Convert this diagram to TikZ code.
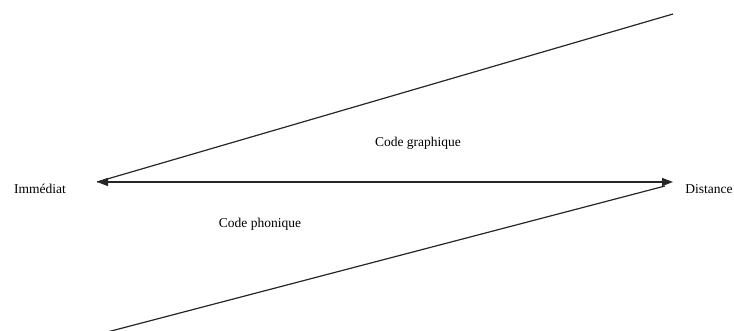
\documentclass[tikz,border=0pt]{standalone}
\usepackage{fontspec}
\setmainfont{Liberation Serif}
\usetikzlibrary{arrows.meta}
\begin{document}
\begin{tikzpicture}[x=1pt,y=-1pt,
  ln/.style={line width=1.2pt, draw=black!85},
  lbl/.style={font=\fontsize{13.5}{16}\selectfont, inner sep=0pt}]
\useasboundingbox (0,0) rectangle (734,331);
\clip (0,0) rectangle (734,331);
\coordinate (L) at (97,182);
\coordinate (R) at (673,182);
\coordinate (U) at (673,14);
\coordinate (B) at (92,336);
\coordinate (E) at (665,186);
\draw[ln, {Triangle[length=11pt,width=8pt]}-{Triangle[length=11pt,width=8pt]}] (L) -- (R);
\draw[ln] (L) -- (U);
\draw[ln] (B) -- (E);
\node[lbl] (imm) at (40,189) {Immédiat};
\node[lbl] (dist) at (709,189) {Distance};
\node[lbl] (cg) at (418,143) {Code graphique};
\node[lbl] (cp) at (260,224) {Code phonique};
\end{tikzpicture}
\end{document}
